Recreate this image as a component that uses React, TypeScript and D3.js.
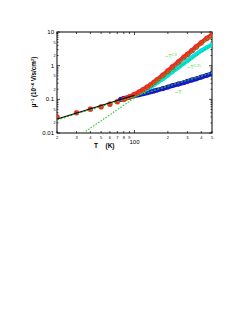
import React from 'react';
import * as d3 from 'd3';

// temperature (K) and inverse mobility (10^-4 V/s/cm^2)
const redT = [20, 30, 40, 50, 60, 70, 80, 90, 100, 110, 120, 130, 140, 150, 160, 180, 200, 220, 250, 280, 300, 330, 360, 400, 450, 500];
const redV = [0.030, 0.040, 0.051, 0.060, 0.072, 0.085, 0.100, 0.118, 0.14, 0.165, 0.195, 0.23, 0.27, 0.32, 0.38, 0.52, 0.70, 0.92, 1.30, 1.80, 2.15, 2.8, 3.6, 4.8, 6.5, 8.2];

const cyanT = [80, 90, 100, 110, 120, 130, 140, 150, 160, 180, 200, 220, 250, 280, 300, 330, 360, 400, 450, 500];
const cyanV = [0.098, 0.114, 0.133, 0.155, 0.178, 0.205, 0.235, 0.27, 0.31, 0.40, 0.52, 0.66, 0.90, 1.18, 1.40, 1.78, 2.2, 2.8, 3.5, 4.2];

const blueT = [75, 80, 90, 100, 110, 120, 130, 140, 150, 160, 180, 200, 220, 250, 280, 300, 330, 360, 400, 450, 500];
const blueV = [0.100, 0.106, 0.117, 0.127, 0.137, 0.147, 0.157, 0.167, 0.177, 0.188, 0.208, 0.232, 0.255, 0.285, 0.315, 0.34, 0.375, 0.405, 0.455, 0.515, 0.575];

// fitted lines: [T, value] at the ends
const blackFit = [[20, 0.026], [100, 0.132]];
const fitT28 = [[140, 0.233], [500, 8.0]];
const fitT225 = [[34.5, 0.01], [500, 4.2]];
const fitT1 = [[20, 0.0245], [500, 0.612]];

const xMajor = [100];
const xMinorLabels = [20, 30, 40, 50, 60, 70, 80, 90, 200, 300, 400, 500];
const yMajor = [0.01, 0.1, 1, 10];
const yMinorLabels = [0.02, 0.05, 0.2, 0.5, 2, 5];

const W = 252;
const H = 325;
const left = 57;
const right = 212;
const top = 32;
const bottom = 133;

const FONT = 'Liberation Sans, Arial, sans-serif';

export default function App() {
  const x = d3.scaleLog().domain([20, 500]).range([left, right]);
  const y = d3.scaleLog().domain([0.01, 10]).range([bottom, top]);
  const line = d3.line<number[]>().x(d => x(d[0])).y(d => y(d[1]));

  const series = (T: number[], V: number[]) => T.map((t, i) => [t, V[i]]);
  const red = series(redT, redV);
  const cyan = series(cyanT, cyanV);
  const blue = series(blueT, blueV);

  const xTicks: number[] = [];
  for (let t = 20; t <= 90; t += 10) xTicks.push(t);
  for (let t = 100; t <= 500; t += 100) xTicks.push(t);
  const yTicks: number[] = [];
  for (const d of [0.01, 0.1, 1]) for (let k = 1; k <= 9; k++) yTicks.push(d * k);
  yTicks.push(10);

  const green = '#22cc22';
  const lblGreen = '#66dd55';

  return (
    <svg width={W} height={H} style={{ position: 'absolute', left: 0, top: 0, background: '#fff' }}
      fontFamily={FONT}>
      {/* frame */}
      <rect x={left} y={top} width={right - left} height={bottom - top} fill="none" stroke="#000" strokeWidth={1} />

      {/* x ticks, top and bottom, inward */}
      {xTicks.map(t => {
        const len = xMajor.includes(t) ? 3 : 2;
        return (
          <g key={'xt' + t}>
            <line x1={x(t)} x2={x(t)} y1={bottom} y2={bottom - len} stroke="#000" strokeWidth={0.7} />
            <line x1={x(t)} x2={x(t)} y1={top} y2={top + len} stroke="#000" strokeWidth={0.7} />
          </g>
        );
      })}
      {/* y ticks, left and right, inward */}
      {yTicks.map((v, i) => {
        const len = yMajor.some(m => Math.abs(m - v) < 1e-9) ? 3 : 1.5;
        return (
          <g key={'yt' + i}>
            <line x1={left} x2={left + len} y1={y(v)} y2={y(v)} stroke="#000" strokeWidth={0.7} />
            <line x1={right} x2={right - len} y1={y(v)} y2={y(v)} stroke="#000" strokeWidth={0.7} />
          </g>
        );
      })}

      {/* x tick labels */}
      {xMinorLabels.map(t => (
        <text key={'xl' + t} x={x(t)} y={138.5} fontSize={4} textAnchor="middle">{t >= 100 ? t / 100 : t / 10}</text>
      ))}
      {xMajor.map(t => (
        <text key={'xm' + t} x={x(t)} y={144} fontSize={6} textAnchor="middle">{t}</text>
      ))}

      {/* y tick labels */}
      {yMajor.map(v => (
        <text key={'yl' + v} x={left - 3} y={y(v) + 2} fontSize={6} textAnchor="end">{String(v)}</text>
      ))}
      {yMinorLabels.map(v => (
        <text key={'ym' + v} x={left - 1.5} y={y(v) + 1.4} fontSize={3.8} textAnchor="end">
          {String(v).replace(/^0\.0?/, '')}
        </text>
      ))}

      {/* axis titles */}
      <text x={96} y={148} fontSize={6.5} fontWeight="bold" textAnchor="middle">T</text>
      <text x={110} y={148} fontSize={6.5} fontWeight="bold" textAnchor="middle">(K)</text>
      <text transform="translate(36,82) rotate(-90)" fontSize={6.3} fontWeight="bold" textAnchor="middle">
        <tspan>μ</tspan>
        <tspan fontSize={4.2} dy={-2.5}>−1</tspan>
        <tspan dy={2.5}>{'   '}(10</tspan>
        <tspan fontSize={4.2} dy={-2.5}>−4</tspan>
        <tspan dy={2.5}> V/s/cm</tspan>
        <tspan fontSize={4.2} dy={-2.5}>2</tspan>
        <tspan dy={2.5}>)</tspan>
      </text>

      <defs>
        <clipPath id="plot">
          <rect x={left} y={top} width={right - left} height={bottom - top} />
        </clipPath>
      </defs>

      <g clipPath="url(#plot)">
        {/* blue band */}
        <path d={line(blue) || ''} fill="none" stroke="#1414c8" strokeWidth={4.5} strokeLinecap="round" />
        {blue.map((d, i) => (
          <circle key={'b' + i} cx={x(d[0])} cy={y(d[1])} r={2.4} fill="#1a1ad0" stroke="#0a0a90" strokeWidth={0.2} />
        ))}
        {/* cyan band */}
        <path d={line(cyan) || ''} fill="none" stroke="#00e0e8" strokeWidth={4.2} strokeLinecap="round" />
        {cyan.map((d, i) => (
          <circle key={'c' + i} cx={x(d[0])} cy={y(d[1])} r={2.2} fill="#00e4ec" />
        ))}
        {/* red band (dense part) */}
        <path d={line(red.filter(d => d[0] >= 80)) || ''} fill="none" stroke="#f03020" strokeWidth={4.6} strokeLinecap="round" />
        {red.map((d, i) => (
          <circle key={'r' + i} cx={x(d[0])} cy={y(d[1])} r={2.6} fill="#f03020" stroke="#c01818" strokeWidth={0.2} />
        ))}

        {/* fits */}
        <path d={line(fitT1) || ''} fill="none" stroke={green} strokeWidth={1.1} strokeDasharray="2,1.5" />
        <path d={line(fitT225) || ''} fill="none" stroke={green} strokeWidth={1.1} strokeDasharray="1.5,1.5" />
        <path d={line(fitT28) || ''} fill="none" stroke={green} strokeWidth={1.1} strokeDasharray="2,1.5" />
        <path d={line(blackFit) || ''} fill="none" stroke="#000" strokeWidth={1.2} />
      </g>

      {/* fit labels */}
      <text x={165} y={58} fontSize={5.5} fill={lblGreen}>
        ~T<tspan fontSize={3.8} dy={-2.5}>2.8</tspan>
      </text>
      <text x={187} y={69} fontSize={5.5} fill={lblGreen}>
        ~T<tspan fontSize={3.8} dy={-2.5}>2.25</tspan>
      </text>
      <text x={175} y={94} fontSize={5.5} fill={lblGreen}>~T</text>
    </svg>
  );
}
